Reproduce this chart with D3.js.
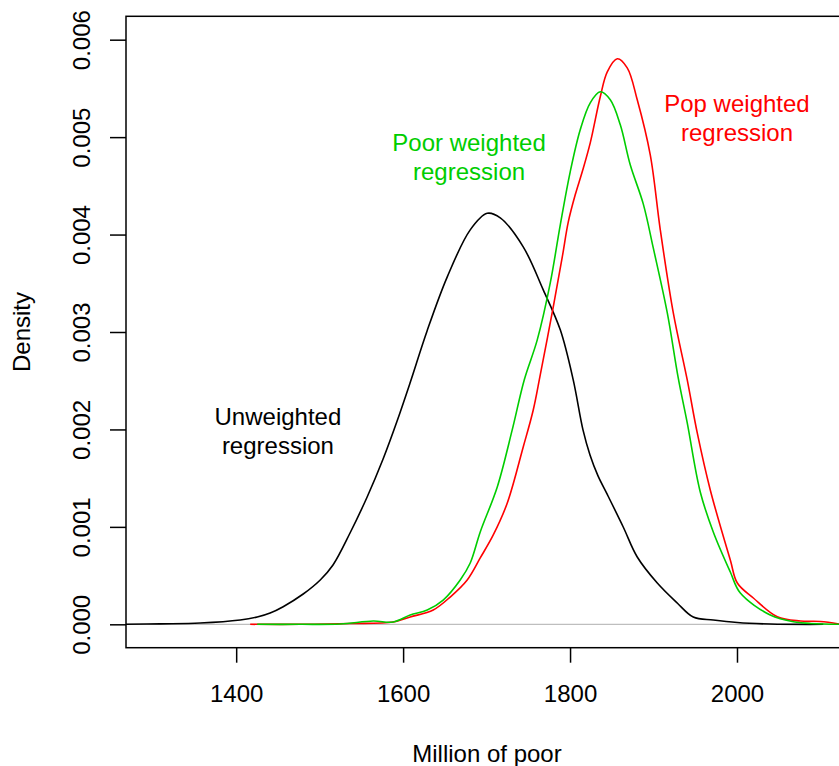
<!DOCTYPE html>
<html>
<head>
<meta charset="utf-8">
<script src="https://cdn.jsdelivr.net/npm/d3@7"></script>
<style>
  body { margin: 0; background: #fff; }
  svg { display: block; }
  text { font-family: "Liberation Sans", Arial, Helvetica, sans-serif; }
</style>
</head>
<body>
<svg id="chart" width="839" height="766"></svg>
<script>
// Axis ticks
const xTicks = [1400, 1600, 1800, 2000];
const yTicks = [0, 0.001, 0.002, 0.003, 0.004, 0.005, 0.006];

// Kernel density estimates of the number of poor (millions)
const unweightedX = [1268, 1308.9, 1356.9, 1404.8, 1425.2, 1440.7, 1456.3, 1480.3, 1500.7, 1516.0, 1536.4, 1556.9, 1576.0, 1592.8, 1608.3, 1628.7, 1652.9, 1680.4, 1700.8, 1716.4, 1743.9, 1767.9, 1788.3, 1803.8, 1815.5, 1823.9, 1833.5, 1844.3, 1863.7, 1880.5, 1904.5, 1928.4, 1947.6, 1971.6, 2000.4, 2039.9, 2103.4];
const unweightedY = [0, 0.000005, 0.000013, 0.000044, 0.000075, 0.000116, 0.000181, 0.000311, 0.000455, 0.000609, 0.000937, 0.001307, 0.001697, 0.002087, 0.002477, 0.003011, 0.003566, 0.004048, 0.004218, 0.004171, 0.003874, 0.003432, 0.003022, 0.002508, 0.001995, 0.001738, 0.001523, 0.001338, 0.000999, 0.000691, 0.000424, 0.000219, 0.000075, 0.000044, 0.000018, 0.000003, 0];

const popWeightedX = [1416.8, 1476.7, 1536.6, 1588.1, 1608.5, 1636.1, 1656.4, 1676.8, 1692.4, 1708.0, 1724.8, 1743.9, 1755.9, 1764.3, 1779.9, 1790.7, 1797.9, 1806.2, 1814.6, 1824.2, 1836.2, 1844.6, 1856.6, 1868.5, 1880.5, 1896.1, 1908.1, 1923.7, 1940.4, 1952.4, 1968.0, 1992.0, 2000.4, 2019.6, 2048.3, 2075.9, 2099.8, 2122.6];
const popWeightedY = [0, 0, 0.000008, 0.000024, 0.000075, 0.000147, 0.000280, 0.000455, 0.000681, 0.000917, 0.001245, 0.001820, 0.002200, 0.002560, 0.003258, 0.003771, 0.004130, 0.004408, 0.004644, 0.004941, 0.005414, 0.005670, 0.005804, 0.005711, 0.005383, 0.004818, 0.004049, 0.003196, 0.002508, 0.001964, 0.001379, 0.000660, 0.000424, 0.000270, 0.000078, 0.000034, 0.000029, 0.000003];

const poorWeightedX = [1425.2, 1476.7, 1524.6, 1564.2, 1588.1, 1608.5, 1628.9, 1648.0, 1668.4, 1680.4, 1692.4, 1712.8, 1730.7, 1745.1, 1760.7, 1776.3, 1788.3, 1800.2, 1812.2, 1824.2, 1836.2, 1848.2, 1860.2, 1872.1, 1887.7, 1899.7, 1916.5, 1929.6, 1940.4, 1956.0, 1971.6, 1992.0, 2004.0, 2039.9, 2067.5, 2122.6];
const poorWeightedY = [0, 0, 0.000003, 0.000034, 0.000024, 0.000095, 0.000147, 0.000249, 0.000455, 0.000629, 0.000948, 0.001410, 0.001995, 0.002508, 0.002919, 0.003504, 0.004100, 0.004644, 0.005075, 0.005352, 0.005465, 0.005383, 0.005126, 0.004716, 0.004315, 0.003863, 0.003196, 0.002529, 0.002067, 0.001358, 0.000948, 0.000537, 0.000321, 0.000095, 0.000027, 0];

const seriesNames = ["Unweighted", "Pop weighted", "Poor weighted"];
const seriesColors = ["#000000", "#FF0000", "#00CD00"];

// Annotation labels
const labelLines = [
  ["Unweighted", "regression"],
  ["Pop weighted", "regression"],
  ["Poor weighted", "regression"]
];
const labelAnchorX = [1450, 2000, 1679];              // data-space centre of each label
const labelAnchorY = [0.002046, 0.005258, 0.004858];  // data-space baseline of first line

const svg = d3.select("#chart");
const FONT = 24;

// Plot region scales (the frame runs off the right edge of the page)
const x = d3.scaleLinear().domain([1268, 2133]).range([126, 848]);
const y = d3.scaleLinear().domain([-0.00024, 0.00624]).range([647.7, 16.3]);

const [x0, x1] = x.range();
const [yb, yt] = y.range();

// Zero reference line
svg.append("line")
  .attr("x1", x0).attr("x2", x1)
  .attr("y1", y(0)).attr("y2", y(0))
  .attr("stroke", "#BEBEBE").attr("stroke-width", 1.2);

// Density curves
const series = [
  { xs: unweightedX, ys: unweightedY },
  { xs: popWeightedX, ys: popWeightedY },
  { xs: poorWeightedX, ys: poorWeightedY }
];
const line = d3.line()
  .x(d => x(d[0]))
  .y(d => y(d[1]))
  .curve(d3.curveCatmullRom.alpha(0.5));

series.forEach((s, i) => {
  const pts = s.xs.map((v, j) => [v, s.ys[j]]);
  svg.append("path")
    .datum(pts)
    .attr("class", "density " + seriesNames[i])
    .attr("d", line)
    .attr("fill", "none")
    .attr("stroke", seriesColors[i])
    .attr("stroke-width", 1.6)
    .attr("stroke-linejoin", "round");
});

// Frame
svg.append("rect")
  .attr("x", x0).attr("y", yt)
  .attr("width", x1 - x0).attr("height", yb - yt)
  .attr("fill", "none")
  .attr("stroke", "#000").attr("stroke-width", 1.5);

// X axis
const gx = svg.append("g")
  .attr("transform", `translate(0,${yb})`)
  .call(d3.axisBottom(x).tickValues(xTicks).tickSize(15).tickFormat(d3.format("d")));
gx.select(".domain").remove();
gx.selectAll(".tick line").attr("stroke", "#000").attr("stroke-width", 1.5);
gx.selectAll(".tick text")
  .attr("y", 54.3).attr("dy", 0)
  .attr("font-size", FONT)
  .attr("font-family", "Liberation Sans, Arial, sans-serif")
  .attr("fill", "#000");

// Y axis with rotated labels
const gy = svg.append("g")
  .attr("transform", `translate(${x0},0)`)
  .call(d3.axisLeft(y).tickValues(yTicks).tickSize(16).tickFormat(d3.format(".3f")));
gy.select(".domain").remove();
gy.selectAll(".tick line").attr("stroke", "#000").attr("stroke-width", 1.5);
gy.selectAll(".tick text")
  .attr("transform", "rotate(-90)")
  .attr("x", 0).attr("y", -36).attr("dy", 0)
  .attr("text-anchor", "middle")
  .attr("font-size", FONT)
  .attr("font-family", "Liberation Sans, Arial, sans-serif")
  .attr("fill", "#000");

// Axis titles
svg.append("text")
  .attr("x", (x0 + x1) / 2).attr("y", 762)
  .attr("text-anchor", "middle")
  .attr("font-size", FONT)
  .text("Million of poor");

svg.append("text")
  .attr("transform", `translate(30,${(yb + yt) / 2}) rotate(-90)`)
  .attr("text-anchor", "middle")
  .attr("font-size", FONT)
  .text("Density");

// In-plot labels
labelLines.forEach((lines, i) => {
  const t = svg.append("text")
    .attr("text-anchor", "middle")
    .attr("font-size", FONT)
    .attr("fill", seriesColors[i]);
  lines.forEach((s, k) => {
    t.append("tspan")
      .attr("x", x(labelAnchorX[i]))
      .attr("y", y(labelAnchorY[i]) + k * 29)
      .text(s);
  });
});
</script>
</body>
</html>
